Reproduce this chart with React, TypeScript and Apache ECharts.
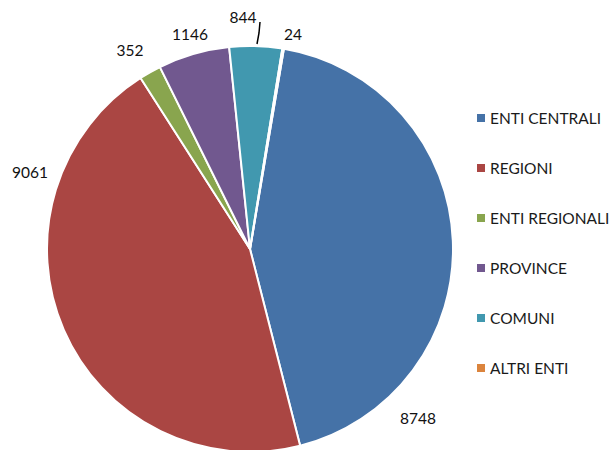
import React, { useEffect, useRef } from "react";
import * as echarts from "echarts";

const categories = ["ENTI CENTRALI", "REGIONI", "ENTI REGIONALI", "PROVINCE", "COMUNI", "ALTRI ENTI"];
const values = [8748, 9061, 352, 1146, 844, 24];
const colors = ["#4572A7", "#AA4643", "#89A54E", "#71588F", "#4198AF", "#DB843D"];

// label anchor positions (px) for each slice's value label
const labelPos: [number, number][] = [
  [418, 418],
  [30, 172],
  [130, 50],
  [190, 34],
  [243, 17],
  [293, 34],
];

export default function App() {
  const ref = useRef<HTMLDivElement>(null);
  useEffect(() => {
    const chart = echarts.init(ref.current!, undefined, { renderer: "svg" });
    const font = "Lato, 'Open Sans', sans-serif";
    chart.setOption({
      animation: false,
      backgroundColor: "#ffffff",
      legend: {
        orient: "vertical",
        left: 472,
        top: 105,
        icon: "rect",
        itemWidth: 8,
        itemHeight: 8,
        itemGap: 34,
        itemStyle: { borderWidth: 0 },
        textStyle: { fontFamily: font, fontSize: 15.5, color: "#1a1a1a", lineHeight: 16 },
        data: categories,
      },
      series: [
        {
          type: "pie",
          center: [250, 249],
          radius: 203,
          startAngle: 80.4,
          clockwise: true,
          avoidLabelOverlap: false,
          itemStyle: { borderColor: "#ffffff", borderWidth: 2 },
          label: {
            show: true,
            position: "outside",
            formatter: "{c}",
            fontFamily: font,
            fontSize: 15.5,
            color: "#111111",
          },
          labelLine: { show: false },
          labelLayout: (params: any) => {
            const p = labelPos[params.dataIndex];
            const res: any = { x: p[0], y: p[1], align: "center", verticalAlign: "middle" };
            if (params.dataIndex === 4) {
              res.labelLinePoints = [
                [257, 44],
                [259, 33],
                [260, 22],
              ];
            }
            return res;
          },
          data: categories.map((name, i) => ({
            name,
            value: values[i],
            itemStyle: { color: colors[i] },
            labelLine:
              i === 4
                ? { show: true, lineStyle: { color: "#000000", width: 1.5 }, length: 5, length2: 5 }
                : { show: false },
          })),
        },
      ],
    });
    return () => chart.dispose();
  }, []);
  return <div ref={ref} style={{ width: 614, height: 450, position: "absolute", left: 0, top: 0 }} />;
}
